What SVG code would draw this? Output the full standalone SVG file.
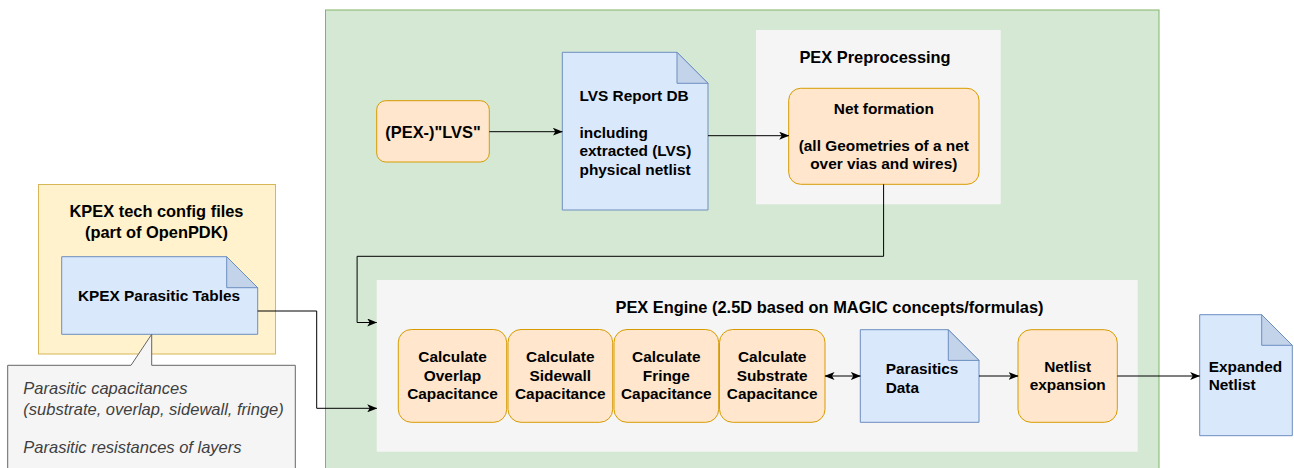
<svg xmlns="http://www.w3.org/2000/svg" width="1294" height="468" viewBox="0 0 1294 468">
<defs>
<style>
.t{font-family:"Liberation Sans",Arial,Helvetica,sans-serif;font-weight:bold;font-size:15.4px;fill:#000}
.ti{font-family:"Liberation Sans",Arial,Helvetica,sans-serif;font-weight:bold;font-size:16.4px;fill:#000}
.it{font-family:"Liberation Sans",Arial,Helvetica,sans-serif;font-style:italic;font-size:16.5px;fill:#3f3f3f}
.c{text-anchor:middle}
.orange{fill:#ffe6cc;stroke:#d79b00;stroke-width:1}
.doc{fill:#dae8fc;stroke:#6c8ebf;stroke-width:1}
.fold{fill:#c3d3ea;stroke:#6c8ebf;stroke-width:1}
.grey{fill:#f5f5f5;stroke:none}
.edge{fill:none;stroke:#000;stroke-width:1}
</style>
<marker id="arr" viewBox="0 0 10 8" refX="9.5" refY="4" markerWidth="10" markerHeight="8" markerUnits="userSpaceOnUse" orient="auto-start-reverse">
<path d="M0,0 L10,4 L0,8 L2.5,4 Z" fill="#000"/>
</marker>
</defs>

<g id="pex-container">
<rect x="325.5" y="10" width="833.5" height="470" fill="#d5e8d4" stroke="#82b366" stroke-width="1"/>
</g>

<g id="kpex-config">
<rect x="38.5" y="184.5" width="237" height="169.5" fill="#fff2cc" stroke="#d6b656" stroke-width="1"/>
<text class="ti c" x="156.5" y="216.5">KPEX tech config files</text>
<text class="ti c" x="156.5" y="237.5">(part of OpenPDK)</text>
</g>

<g id="kpex-tables">
<path class="doc" d="M61.7,256.7 H226.7 L257.7,287.7 V334.3 H61.7 Z"/>
<path class="fold" d="M226.7,256.7 V287.7 H257.7 Z"/>
<text class="t c" x="159" y="301">KPEX Parasitic Tables</text>
</g>

<g id="kpex-note">
<path d="M7.7,365.3 H131 L151.7,334.3 V365.3 H295.3 V480 H7.7 Z" fill="#f5f5f5" stroke="#666666" stroke-width="1"/>
<text class="it" x="23.3" y="394">Parasitic capacitances</text>
<text class="it" x="23.3" y="415">(substrate, overlap, sidewall, fringe)</text>
<text class="it" x="23.3" y="453">Parasitic resistances of layers</text>
</g>

<g id="pex-lvs">
<rect class="orange" x="376.7" y="100.7" width="112.6" height="61.3" rx="9" ry="9"/>
<text class="ti c" x="433" y="138">(PEX-)"LVS"</text>
</g>

<g id="lvs-report">
<path class="doc" d="M562.3,52.3 H677 L708,83.3 V210 H562.3 Z"/>
<path class="fold" d="M677,52.3 V83.3 H708 Z"/>
<text class="t" x="579.5" y="100.5">LVS Report DB</text>
<text class="t" x="579.5" y="137.5">including</text>
<text class="t" x="579.5" y="156">extracted (LVS)</text>
<text class="t" x="579.5" y="174.5">physical netlist</text>
</g>

<g id="pex-preprocessing">
<rect class="grey" x="756" y="30" width="244.7" height="174.3"/>
<text class="ti c" x="875" y="63">PEX Preprocessing</text>
</g>

<g id="net-formation">
<rect class="orange" x="788.7" y="88.3" width="190.3" height="96" rx="12" ry="12"/>
<text class="t c" x="883.8" y="113.8">Net formation</text>
<text class="t c" x="883.8" y="150.8">(all Geometries of a net</text>
<text class="t c" x="883.8" y="169.3">over vias and wires)</text>
</g>

<g id="pex-engine">
<rect class="grey" x="376.7" y="280" width="761" height="171.7"/>
<text class="ti c" x="829.5" y="312.5">PEX Engine (2.5D based on MAGIC concepts/formulas)</text>
</g>

<g id="calc-overlap">
<rect class="orange" x="398.3" y="329.5" width="108.4" height="92.8" rx="13" ry="13"/>
<text class="t c" x="452.5" y="362.2">Calculate</text>
<text class="t c" x="452.5" y="380.7">Overlap</text>
<text class="t c" x="452.5" y="399.2">Capacitance</text>
</g>

<g id="calc-sidewall">
<rect class="orange" x="508" y="329.5" width="104.7" height="92.8" rx="13" ry="13"/>
<text class="t c" x="560.3" y="362.2">Calculate</text>
<text class="t c" x="560.3" y="380.7">Sidewall</text>
<text class="t c" x="560.3" y="399.2">Capacitance</text>
</g>

<g id="calc-fringe">
<rect class="orange" x="614" y="329.5" width="104.7" height="92.8" rx="13" ry="13"/>
<text class="t c" x="666.3" y="362.2">Calculate</text>
<text class="t c" x="666.3" y="380.7">Fringe</text>
<text class="t c" x="666.3" y="399.2">Capacitance</text>
</g>

<g id="calc-substrate">
<rect class="orange" x="719.5" y="329.5" width="105.5" height="92.8" rx="13" ry="13"/>
<text class="t c" x="772.2" y="362.2">Calculate</text>
<text class="t c" x="772.2" y="380.7">Substrate</text>
<text class="t c" x="772.2" y="399.2">Capacitance</text>
</g>

<g id="parasitics-data">
<path class="doc" d="M860.3,329.7 H948.3 L979,360.4 V422.3 H860.3 Z"/>
<path class="fold" d="M948.3,329.7 V360.4 H979 Z"/>
<text class="t" x="885.7" y="374.3">Parasitics</text>
<text class="t" x="885.7" y="393.2">Data</text>
</g>

<g id="netlist-expansion">
<rect class="orange" x="1018" y="329.7" width="99.3" height="92.6" rx="13" ry="13"/>
<text class="t c" x="1067.7" y="371.7">Netlist</text>
<text class="t c" x="1067.7" y="390.3">expansion</text>
</g>

<g id="expanded-netlist">
<path class="doc" d="M1199.7,314.7 H1261.7 L1292.3,345.3 V435.7 H1199.7 Z"/>
<path class="fold" d="M1261.7,314.7 V345.3 H1292.3 Z"/>
<text class="t" x="1208.7" y="371.7">Expanded</text>
<text class="t" x="1208.7" y="390.3">Netlist</text>
</g>

<g id="connectors">
<path class="edge" d="M489.3,131.7 H562.3" marker-end="url(#arr)"/>
<path class="edge" d="M708,135.7 H788.7" marker-end="url(#arr)"/>
<path class="edge" d="M883.6,184.3 V256.3 H357.1 V322.5 H376.7" marker-end="url(#arr)"/>
<path class="edge" d="M257.7,311 H316.7 V408.3 H376.7" marker-end="url(#arr)"/>
<path class="edge" d="M825,376 H860.3" marker-start="url(#arr)" marker-end="url(#arr)"/>
<path class="edge" d="M979,376 H1018" marker-end="url(#arr)"/>
<path class="edge" d="M1117.3,376 H1199.7" marker-end="url(#arr)"/>
</g>
</svg>
